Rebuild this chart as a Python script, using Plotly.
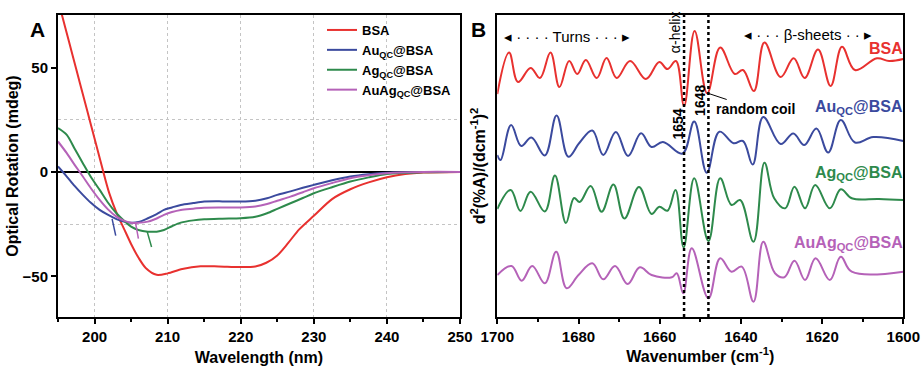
import plotly.graph_objects as go

FONT = "Liberation Sans, Arial, sans-serif"
RED = "#E8312F"
BLUE = "#3B4A9E"
GREEN = "#2E8A4C"
PURPLE = "#B562B8"

series_names = ["BSA", "Au<sub>QC</sub>@BSA", "Ag<sub>QC</sub>@BSA", "AuAg<sub>QC</sub>@BSA"]
series_colors = [RED, BLUE, GREEN, PURPLE]

# ---------------- Panel A: CD spectra ----------------
wl_bsa = [195, 196, 197, 198, 199, 200, 201, 202, 203, 204, 205, 206, 207, 208.5, 210, 212,
          214.5, 217, 220, 222, 223.5, 225, 226.5, 228, 230, 232.5, 235, 237.5, 240, 242.5, 245, 250]
cd_bsa = [82.4, 69.1, 55.8, 42.5, 29.3, 16.0, 2.7, -10.0, -19.5, -27.0, -34.5, -41.0, -46.0, -49.3,
          -48.6, -46.5, -45.2, -45.3, -45.6, -45.3, -43.5, -40.0, -34.0, -27.5, -21.0, -13.0, -8.3,
          -5.0, -2.5, -1.0, -0.3, 0.0]

wl_qc = [195, 196.2, 197.3, 198.4, 199.5, 200.7, 201.8, 203, 204, 205, 206, 207.3, 208.5, 209.5,
         210.6, 211.8, 213.5, 215, 217.5, 220, 222, 223.6, 225, 226.8, 228.5, 230, 232.5, 235,
         237.5, 240, 245, 250]
cd_au = [2.6, -2.2, -6.8, -11.0, -14.8, -18.2, -20.5, -22.6, -23.8, -24.3, -24.0, -22.2, -20.2,
         -18.2, -17.0, -15.8, -14.9, -14.2, -14.1, -14.2, -13.8, -12.6, -11.0, -9.3, -7.6, -6.2,
         -4.0, -2.2, -1.1, -0.4, 0.0, 0.0]
cd_ag = [21.0, 17.8, 11.0, 4.2, -2.4, -8.6, -14.5, -19.8, -23.3, -26.2, -27.8, -28.6, -28.6, -27.8,
         -26.0, -24.3, -23.2, -22.7, -22.4, -22.2, -21.5, -19.8, -17.7, -15.0, -12.5, -10.2, -7.3,
         -4.6, -2.6, -1.0, -0.1, 0.0]
cd_auag = [14.6, 9.0, 3.3, -2.2, -7.8, -13.4, -17.8, -21.4, -23.3, -24.3, -24.4, -23.8, -22.3,
           -20.6, -19.2, -18.2, -17.6, -17.1, -17.0, -17.0, -16.6, -15.4, -13.8, -11.8, -9.7,
           -7.8, -5.3, -3.0, -1.6, -0.6, 0.0, 0.0]

# short cut-off strokes at the low-wavelength end of the cluster spectra
cut_au_wl, cut_au_cd = [202.4, 202.9], [-22.5, -30.5]
cut_auag_wl, cut_auag_cd = [205.6, 206.0], [-24.3, -32.0]
cut_ag_wl, cut_ag_cd = [207.2, 207.8], [-28.6, -36.0]

# ---------------- Panel B: FTIR second derivative (offset, arb. units) ----------------
wn_bsa = [1700, 1697.1, 1694.9, 1691.8, 1689.5, 1686.9, 1684.7, 1682.3, 1680.3, 1678.2, 1675.5,
          1673.1, 1670.6, 1667.3, 1663.4, 1660.1, 1658.1, 1656.0, 1654.0, 1651.4, 1648.3, 1645.1,
          1641.5, 1639.5, 1636.8, 1634.2, 1630.2, 1627.0, 1624.3, 1621.0, 1617.9, 1615.1, 1611.9,
          1606.5, 1603.5, 1600]
d2_bsa = [224, 265.5, 236, 250, 240, 265.5, 231, 257, 244, 258, 240, 260, 240, 257, 239, 256, 249,
          257, 212, 287, 224.7, 270.5, 244, 248, 227, 275.5, 241, 259.7, 240, 268.5, 232, 271.3,
          248, 259.7, 257, 259]

wn_au = [1700, 1699.2, 1696.6, 1694.1, 1691.6, 1688.3, 1685.4, 1682.5, 1679.8, 1676.6, 1673.9,
         1670.8, 1667.8, 1664.6, 1662.0, 1659.2, 1654.4, 1651.5, 1648.4, 1645.3, 1641.8, 1639.5,
         1637.1, 1634.5, 1630.2, 1627.1, 1624.4, 1621.4, 1618.5, 1615.4, 1611.9, 1607.4, 1600]
d2_au = [163, 158, 193, 172, 180.5, 162.5, 202.5, 161.3, 175, 187.5, 163, 186, 162, 184.7, 171,
         176, 164.5, 196.5, 145.3, 186.3, 174.7, 177, 153.5, 201, 174, 184.5, 173, 189.5, 165.5,
         198, 175.5, 181, 177]

wn_ag = [1700, 1696.7, 1694.3, 1691.8, 1688.3, 1685.8, 1683.1, 1681.1, 1679.7, 1677.0, 1674.3,
         1671.4, 1668.7, 1665.1, 1662.0, 1660.1, 1658.1, 1656.1, 1654.1, 1651.5, 1648.0, 1645.1,
         1642.3, 1640.2, 1636.9, 1634.2, 1631.8, 1629.1, 1626.8, 1624.2, 1621.7, 1618.1, 1615.4,
         1612.7, 1606, 1600]
d2_ag = [109, 128, 107, 126.3, 106.5, 142.5, 95, 120, 116, 132, 106.3, 133.5, 99.5, 131, 104,
         111.3, 107.3, 128, 70.5, 139.7, 77, 139.7, 113, 118, 76.3, 155.3, 119.7, 109.7, 131.3,
         109.7, 133, 109.7, 128.7, 119.7, 119, 118]

wn_auag = [1700, 1696.5, 1694.0, 1691.4, 1688.3, 1685.5, 1682.9, 1680.0, 1676.6, 1673.9, 1671.0,
           1667.9, 1664.9, 1662.0, 1657.0, 1655.8, 1654.2, 1652.1, 1648.0, 1645.1, 1642.3, 1639.8,
           1636.9, 1634.5, 1631.6, 1629.3, 1626.8, 1624.2, 1621.6, 1618.1, 1615.4, 1612.7, 1600]
d2_auag = [43, 52, 37.3, 52, 34.7, 66.3, 29.7, 43, 54.7, 38.7, 52, 34, 50.7, 43, 40.7, 44.7, 24.7,
           69.7, 19.7, 59.7, 46.3, 51.3, 16.3, 76.3, 44.7, 40.7, 57.3, 38, 59.7, 38, 61.3, 46.3,
           46.3]

band_positions = [1654, 1648]

W, H = 921, 371


def px_x(p):
    return p / W


def px_y(p):
    return 1 - p / H


fig = go.Figure()

# Panel A traces
for wl, cd, name, col in [(wl_bsa, cd_bsa, series_names[0], RED),
                          (wl_qc, cd_au, series_names[1], BLUE),
                          (wl_qc, cd_ag, series_names[2], GREEN),
                          (wl_qc, cd_auag, series_names[3], PURPLE)]:
    fig.add_trace(go.Scatter(x=wl, y=cd, mode="lines", name=name, legendgroup=name,
                             line=dict(color=col, width=2, shape="spline", smoothing=0.8),
                             xaxis="x", yaxis="y"))

for wl, cd, col in [(cut_au_wl, cut_au_cd, BLUE), (cut_auag_wl, cut_auag_cd, PURPLE),
                    (cut_ag_wl, cut_ag_cd, GREEN)]:
    fig.add_trace(go.Scatter(x=wl, y=cd, mode="lines", showlegend=False,
                             line=dict(color=col, width=1.5), xaxis="x", yaxis="y",
                             hoverinfo="skip"))

# Panel B traces
for wn, d2, name, col in [(wn_bsa, d2_bsa, series_names[0], RED),
                          (wn_au, d2_au, series_names[1], BLUE),
                          (wn_ag, d2_ag, series_names[2], GREEN),
                          (wn_auag, d2_auag, series_names[3], PURPLE)]:
    fig.add_trace(go.Scatter(x=wn, y=d2, mode="lines", name=name, legendgroup=name,
                             showlegend=False,
                             line=dict(color=col, width=2, shape="spline", smoothing=1.1),
                             xaxis="x2", yaxis="y2"))

tickfont = dict(family=FONT, size=15, color="black", weight="bold")
titlefont = dict(family=FONT, size=16, color="black", weight="bold")
ydom = [px_y(317), px_y(15)]

axis_common = dict(showline=True, linecolor="black", linewidth=2, mirror=True,
                   ticks="outside", ticklen=5, tickwidth=1.5, tickcolor="black",
                   tickfont=tickfont, automargin=False)

fig.update_layout(
    width=W, height=H, autosize=False,
    margin=dict(l=0, r=0, t=0, b=0),
    paper_bgcolor="white", plot_bgcolor="white",
    font=dict(family=FONT, color="black"),
    showlegend=True,
    legend=dict(x=px_x(322), y=px_y(15), xanchor="left", yanchor="top",
                bgcolor="rgba(0,0,0,0)", tracegroupgap=0,
                font=dict(family=FONT, size=13, color="black", weight="bold")),
    xaxis=dict(domain=[px_x(58), px_x(460)], range=[195, 250], anchor="y",
               tick0=200, dtick=10, showgrid=True, gridcolor="#c4c4c4", griddash="dot",
               gridwidth=1, zeroline=False,
               minor=dict(dtick=5, ticks="outside", ticklen=3, tickcolor="black", showgrid=False),
               title=dict(text="Wavelength (nm)", font=titlefont, standoff=8),
               **axis_common),
    yaxis=dict(domain=ydom, range=[-69.5, 75.2], anchor="x",
               tick0=0, dtick=50, showgrid=False,
               zeroline=True, zerolinecolor="black", zerolinewidth=1.5,
               minor=dict(dtick=25, ticks="", showgrid=True, gridcolor="#c4c4c4",
                          griddash="dot", gridwidth=1),
               title=dict(text="Optical Rotation (mdeg)", font=titlefont, standoff=0),
               **axis_common),
    xaxis2=dict(domain=[px_x(497.3), px_x(903.3)], range=[1700, 1600], anchor="y2",
                tick0=1600, dtick=20, showgrid=False, zeroline=False,
                minor=dict(dtick=10, ticks="outside", ticklen=3, tickcolor="black"),
                title=dict(text="Wavenumber (cm<sup>-1</sup>)", font=titlefont, standoff=7),
                **axis_common),
    yaxis2=dict(domain=ydom, range=[1, 303], anchor="x2", automargin=False,
                showline=True, linecolor="black", linewidth=2, mirror=True,
                ticks="", showticklabels=False, showgrid=False, zeroline=False,
                title=dict(text="d<sup>2</sup>(%A)/(dcm<sup>-1</sup>)<sup>2</sup>",
                           font=titlefont, standoff=6)),
)

# dotted band markers in panel B
for b in band_positions:
    fig.add_shape(type="line", xref="x2", yref="y2 domain", x0=b, x1=b, y0=0, y1=1,
                  line=dict(color="black", width=2.5, dash="dot"))

C = dict(xanchor="center", yanchor="middle", showarrow=False)
ann = []
ann.append(dict(text="A", xref="paper", yref="paper", x=px_x(37), y=px_y(30),
                font=dict(family=FONT, size=21, weight="bold"), **C))
ann.append(dict(text="B", xref="paper", yref="paper", x=px_x(478), y=px_y(30),
                font=dict(family=FONT, size=21, weight="bold"), **C))
ann.append(dict(text="◂ · · · · Turns · · · ▸", xref="x2", yref="paper", x=1682.8, y=px_y(37),
                font=dict(family=FONT, size=15, color="black"), **C))
ann.append(dict(text="◂ · · · β-sheets · · ▸", xref="x2", yref="paper", x=1623.5, y=px_y(35),
                font=dict(family=FONT, size=15, color="black"), **C))
ann.append(dict(text="α-helix", xref="x2", yref="paper", x=1656.2, y=px_y(32), textangle=-90,
                font=dict(family=FONT, size=14, color="black"), **C))
ann.append(dict(text="1654", xref="x2", yref="paper", x=1655.6, y=px_y(124), textangle=-90,
                font=dict(family=FONT, size=14, color="black", weight="bold"), **C))
ann.append(dict(text="1648", xref="x2", yref="paper", x=1650.1, y=px_y(100), textangle=-90,
                font=dict(family=FONT, size=14, color="black", weight="bold"), **C))
ann.append(dict(text="random coil", xref="x2", yref="y2", x=1648.3, y=225,
                ax=48, ay=16, showarrow=True, arrowhead=0, arrowwidth=1, arrowcolor="black",
                font=dict(family=FONT, size=14, color="black", weight="bold")))
for name, col, ypix in zip(series_names, series_colors, [49, 108, 174, 243]):
    ann.append(dict(text=name, xref="paper", yref="paper", x=px_x(905), y=px_y(ypix),
                    xanchor="right", yanchor="middle", showarrow=False,
                    font=dict(family=FONT, size=16, color=col, weight="bold")))
fig.update_layout(annotations=ann)

fig.write_html("out.html")
